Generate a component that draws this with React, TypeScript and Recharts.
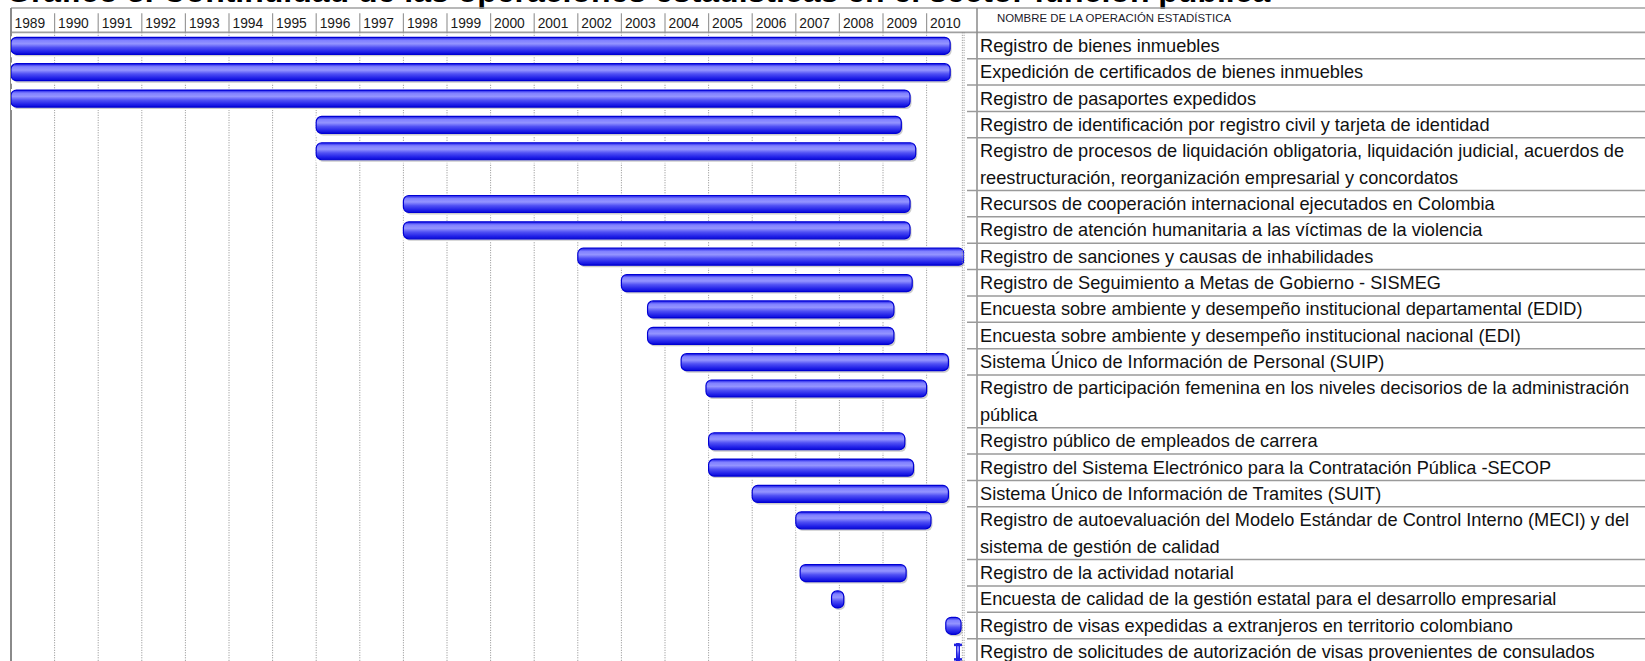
import React from "react";
import { BarChart, Bar, XAxis, YAxis, CartesianGrid, ReferenceLine } from "recharts";

const title = "Gráfico 3. Continuidad de las operaciones estadísticas en el sector función pública";
const headerLabel = "NOMBRE DE LA OPERACIÓN ESTADÍSTICA";
const years = [1989, 1990, 1991, 1992, 1993, 1994, 1995, 1996, 1997, 1998, 1999, 2000, 2001, 2002, 2003, 2004, 2005, 2006, 2007, 2008, 2009, 2010];

const operations: string[][] = [
  ["Registro de bienes inmuebles"],
  ["Expedición de certificados de bienes inmuebles"],
  ["Registro de pasaportes expedidos"],
  ["Registro de identificación por registro civil y tarjeta de identidad"],
  ["Registro de procesos de liquidación obligatoria, liquidación judicial, acuerdos de", "reestructuración, reorganización empresarial y concordatos"],
  ["Recursos de cooperación internacional ejecutados en Colombia"],
  ["Registro de atención humanitaria a las víctimas de la violencia"],
  ["Registro de sanciones y causas de inhabilidades"],
  ["Registro de Seguimiento a Metas de Gobierno - SISMEG"],
  ["Encuesta sobre ambiente y desempeño institucional departamental (EDID)"],
  ["Encuesta sobre ambiente y desempeño institucional nacional (EDI)"],
  ["Sistema Único de Información de Personal (SUIP)"],
  ["Registro de participación femenina en los niveles decisorios de la administración", "pública"],
  ["Registro público de empleados de carrera"],
  ["Registro del Sistema Electrónico para la Contratación Pública -SECOP"],
  ["Sistema Único de Información de Tramites (SUIT)"],
  ["Registro de autoevaluación del Modelo Estándar de Control Interno (MECI) y del", "sistema de gestión de calidad"],
  ["Registro de la actividad notarial"],
  ["Encuesta de calidad de la gestión estatal para el desarrollo empresarial"],
  ["Registro de visas expedidas a extranjeros en territorio colombiano"],
  ["Registro de solicitudes de autorización de visas provenientes de consulados"],
];

const startYears = [1989.0, 1989.0, 1989.0, 1996.0, 1996.0, 1998.0, 1998.0, 2002.0, 2003.0, 2003.6, 2003.6, 2004.37, 2004.94, 2005.0, 2005.0, 2006.0, 2007.0, 2007.1, 2007.82, 2010.44, 2010.7];
const endYears = [2010.54, 2010.54, 2009.62, 2009.42, 2009.75, 2009.62, 2009.62, 2010.86, 2009.67, 2009.25, 2009.25, 2010.5, 2010.0, 2009.5, 2009.7, 2010.5, 2010.1, 2009.53, 2008.1, 2010.79, 2010.74];

const DOMAIN_MIN = 1989;
const DOMAIN_MAX = 2010.86;
const CHART_END_LINE = 2010.82;

// layout
const W = 1645;
const H = 661;
const CHART_H = 665;
const M_LEFT = 11;
const M_TOP = 8;
const HEADER_H = 24.3;
const PLOT_TOP = M_TOP + HEADER_H;
const PLOT_RIGHT = 964.1;
const Y_AXIS_W = W - PLOT_RIGHT;
const TABLE_LINE_X = 977;
const TEXT_X = 980;

type Slot = { key: string; range: [number, number] | null; text: string; first: boolean };
const slots: Slot[] = [];
operations.forEach((lines, i) => {
  lines.forEach((t, j) => {
    slots.push({ key: `${i}-${j}`, range: j === 0 ? [startYears[i], endYears[i]] : null, text: t, first: j === 0 });
  });
});
const ROW_H = (CHART_H - PLOT_TOP) / slots.length;
const slotByKey: Record<string, Slot> = {};
slots.forEach((s) => (slotByKey[s.key] = s));

const NARROW = "'Liberation Sans Narrow', 'Arial Narrow', 'Liberation Sans', Arial, sans-serif";
const SANS = "'Liberation Sans', Arial, sans-serif";

const YearTick = (props: any) => {
  const { x, payload } = props;
  const yb = PLOT_TOP;
  return (
    <g>
      {payload.value !== DOMAIN_MIN && (
        <line x1={x} x2={x} y1={yb - 19} y2={yb} stroke="#9a9a9a" strokeWidth={1.2} />
      )}
      <text x={x + 3.5} y={yb - 4.5} fontFamily={SANS} fontSize={13.8} fill="#1a1a1a">
        {payload.value}
      </text>
    </g>
  );
};

const NameTick = (props: any) => {
  const { y, payload } = props;
  const s = slotByKey[payload.value];
  if (!s) return <g />;
  return (
    <g>
      {s.first && s.key !== "0-0" && (
        <line x1={TABLE_LINE_X - 10} x2={W} y1={y - ROW_H / 2} y2={y - ROW_H / 2} stroke="#9a9a9a" strokeWidth={1.5} />
      )}
      <text x={TEXT_X} y={y + 6.3} fontFamily={NARROW} fontSize={18.2} fill="#111">
        {s.text}
      </text>
    </g>
  );
};

const GanttBar = (props: any) => {
  const { x, y, width, height, payload } = props;
  if (!payload || !payload.range || !(width > 0)) return <g />;
  if (width < 4) {
    const cx = x + width / 2;
    return (
      <g>
        <rect x={cx - 1.5} y={y} width={3} height={height} fill="url(#barGrad)" stroke="#0000d8" strokeWidth={0.8} />
        <rect x={cx - 4} y={y} width={8} height={2.5} fill="#2020e0" />
        <rect x={cx - 4} y={y + height - 2.5} width={8} height={2.5} fill="#2020e0" />
      </g>
    );
  }
  const r = Math.min(5.5, width / 2, height / 2);
  return (
    <g>
      <rect x={x} y={y - 1} width={width + 3} height={height + 4} fill="#ffffff" />
      <rect x={x + 1.5} y={y + 2} width={width} height={height} rx={r} ry={r} fill="#cccccc" />
      <rect x={x} y={y} width={width} height={height} rx={r} ry={r} fill="url(#barGrad)" stroke="#0000d4" strokeWidth={1.2} />
    </g>
  );
};

const Frame = () => (
  <svg width={W} height={H} style={{ position: "absolute", left: 0, top: 0 }}>
    <text x={6} y={1.5} fontFamily={SANS} fontWeight="bold" fontSize={32} fill="#000">
      {title}
    </text>
    <line x1={M_LEFT} x2={W} y1={M_TOP} y2={M_TOP} stroke="#a0a0a0" strokeWidth={1.5} />
    <line x1={M_LEFT} x2={W} y1={PLOT_TOP} y2={PLOT_TOP} stroke="#a0a0a0" strokeWidth={1.8} />
    <line x1={M_LEFT} x2={M_LEFT} y1={M_TOP} y2={H} stroke="#8a8a8a" strokeWidth={2} />
    <line x1={TABLE_LINE_X} x2={TABLE_LINE_X} y1={M_TOP} y2={H} stroke="#8a8a8a" strokeWidth={1.5} />
    <text x={997} y={22} fontFamily={NARROW} fontSize={11.4} fill="#1a1a2a">
      {headerLabel}
    </text>
  </svg>
);

export default function App() {
  return (
    <div style={{ position: "absolute", left: 0, top: 0, width: W, height: H, overflow: "hidden", background: "#fff" }}>
      <Frame />
      <div style={{ position: "absolute", left: 0, top: 0 }}>
        <BarChart
          layout="vertical"
          width={W}
          height={CHART_H}
          data={slots}
          margin={{ top: M_TOP, right: 0, left: M_LEFT, bottom: 0 }}
          barSize={17}
        >
          <defs>
            <linearGradient id="barGrad" x1="0" y1="0" x2="0" y2="1">
              <stop offset="0" stopColor="#1818e6" />
              <stop offset="0.18" stopColor="#8080ff" />
              <stop offset="0.38" stopColor="#9494ff" />
              <stop offset="0.6" stopColor="#5050f4" />
              <stop offset="0.85" stopColor="#2020e8" />
              <stop offset="1" stopColor="#0a0ad6" />
            </linearGradient>
          </defs>
          <CartesianGrid horizontal={false} vertical stroke="#8c8c8c" strokeDasharray="1 1.5" />
          <XAxis
            type="number"
            orientation="top"
            domain={[DOMAIN_MIN, DOMAIN_MAX]}
            ticks={years}
            interval={0}
            allowDataOverflow
            height={HEADER_H}
            axisLine={false}
            tickLine={false}
            tickSize={0}
            tick={<YearTick />}
          />
          <YAxis
            type="category"
            dataKey="key"
            orientation="right"
            width={Y_AXIS_W}
            interval={0}
            axisLine={false}
            tickLine={false}
            tickSize={0}
            tickMargin={0}
            tick={<NameTick />}
          />
          <ReferenceLine x={CHART_END_LINE} stroke="#8c8c8c" strokeDasharray="1 1.5" ifOverflow="visible" />
          <Bar dataKey="range" shape={<GanttBar />} isAnimationActive={false} />
        </BarChart>
      </div>
    </div>
  );
}
